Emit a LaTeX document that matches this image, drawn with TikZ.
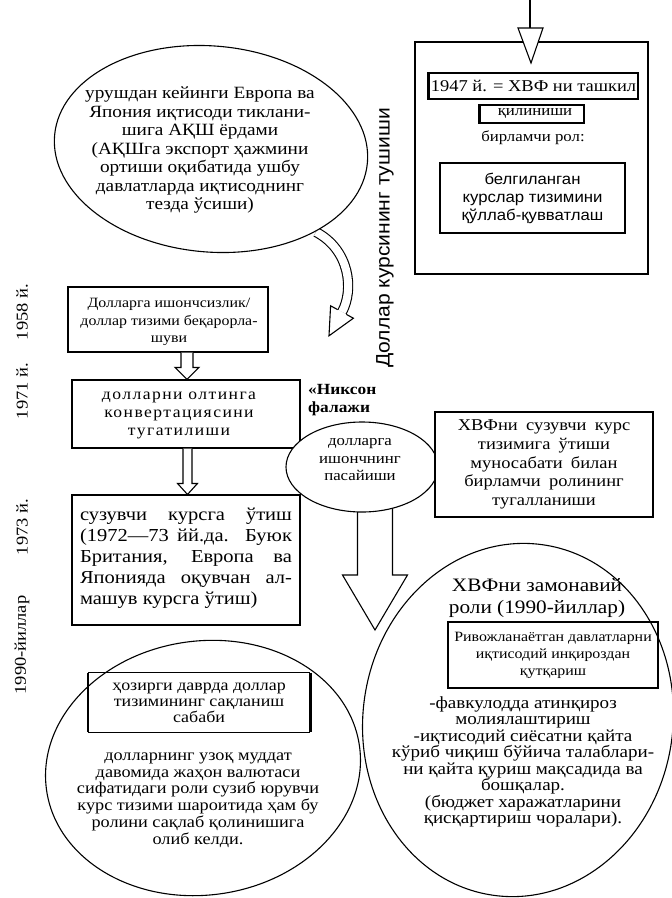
\documentclass[tikz,border=0pt]{standalone}
\usepackage{fontspec}
\setmainfont{Liberation Serif}[FakeStretch=1.12]
\newfontfamily\sansf{Liberation Sans}[FakeStretch=1.08]
\newfontfamily\serifls{Liberation Serif}[FakeStretch=1.1,LetterSpace=9]
\usetikzlibrary{calc,shapes.geometric}
\newcommand\hdown[5]{%
 \draw[ln,fill=white] let \p1=(#1), \p2=(#2) in
 (\x2-#3pt,\y1) -- (\x2-#3pt,\y2+#5pt) -- (\x2-#4pt,\y2+#5pt) -- (\x2,\y2) --
 (\x2+#4pt,\y2+#5pt) -- (\x2+#3pt,\y2+#5pt) -- (\x2+#3pt,\y1);}
\begin{document}
\begin{tikzpicture}[x=1pt,y=-1pt,
  ln/.style={line width=1.1pt},
  box/.style={draw, line width=1.1pt, inner sep=0pt},
  oval/.style={draw, ellipse, line width=1.1pt, inner sep=0pt},
  txt/.style={align=center, inner sep=0pt},
  year/.style={txt, rotate=90, font=\fontsize{16.5}{18}\selectfont},
]
\useasboundingbox[fill=white] (0,0) rectangle (672,898);

% ---------- top right box ----------
\node[box, minimum width=233pt, minimum height=232pt] (T) at (531.5,158) {};
\coordinate (topin) at (530,0);
\coordinate (toptip) at (531,63);
\draw[ln] (topin) -- (530,28);
\draw[ln,fill=white] (518,28) -- (toptip) -- (543,28) -- cycle;
\node[box, minimum width=209pt, minimum height=26pt, txt, font=\fontsize{16.5}{18}\selectfont] (B47) at (533.5,86) {1947 й. = ХВФ ни ташкил};
\draw[line width=2.6pt] (B47.north west) -- (B47.south west);
\node[box, minimum width=104pt, minimum height=18pt, txt, font=\fontsize{15}{16}\selectfont] (Bkil) at (532,114) {\hspace*{6pt}қилиниши};
\draw[line width=2pt] (Bkil.north west) -- (Bkil.south west);
\node[txt, font=\fontsize{15}{16}\selectfont] (Tbir) at (533,138) {бирламчи рол:};
\node[box, minimum width=185pt, minimum height=70pt, txt, font=\sansf\fontsize{15.5}{18}\selectfont] (Bbel) at (532.5,198) {белгиланган\\курслар тизимини\\қўллаб-қувватлаш};

% ---------- top left ellipse + curved arrow ----------
\coordinate (cv0) at (316,232);
\coordinate (cvm) at (342,312);
\draw[ln, double, double distance=8pt] (cv0) .. controls (350,250) and (354,290) .. (cvm);
\fill[white] (353.4,318.2) -- (329,335.8) -- (330.6,305.8) -- cycle;
\draw[ln] (346.4,314.4) -- (353.4,318.2) -- (329,335.8) -- (330.6,305.8) -- (337.6,309.6);
\node[oval, fill=white, minimum width=314pt, minimum height=206pt, rotate=-5] (E1) at (211,149) {};
\node[txt, font=\fontsize{17.2}{18.5}\selectfont] (T1) at (200,150) {урушдан кейинги Европа ва\\Япония иқтисоди тиклани-\\шига АҚШ ёрдами\\(АҚШга экспорт ҳажмини\\ортиши оқибатида ушбу\\давлатларда иқтисоднинг\\тезда ўсиши)};
\node[txt, rotate=90, font=\sansf\fontsize{19.5}{21}\selectfont] (Vdol) at (385,238) {Доллар курсининг тушиши};

% ---------- years ----------
\node[year] (Y58) at (22,312) {1958 й.};
\node[year] (Y71) at (22,391) {1971 й.};
\node[year] (Y73) at (22,527) {1973 й.};
\node[year] (Y90) at (22,645) {1990-йиллар};

% ---------- left column ----------
\node[box, minimum width=200pt, minimum height=65pt] (B1) at (168,319.5) {};
\node[txt, font=\fontsize{14.2}{17.5}\selectfont] (T1b) at (169,322) {Долларга ишончсизлик/\\доллар тизими беқарорла-\\шуви};
\node[box, minimum width=228pt, minimum height=68pt] (B2) at (186,414) {};
\node[txt, font=\serifls\fontsize{16}{18}\selectfont] (T2b) at (179,415) {долларни олтинга\\конвертациясини\\тугатилиши};
\node[box, minimum width=228pt, minimum height=130pt] (B3) at (186,560) {};
\node[inner sep=0pt, text width=212pt, align=justify, font=\fontsize{18.3}{21}\selectfont] (T3b) at (186,558) {сузувчи курсга ўтиш\linebreak (1972—73 йй.да. Буюк\linebreak Британия, Европа ва\linebreak Японияда оқувчан ал-\linebreak машув курсга ўтиш)};
\coordinate (xa) at (187,0);
\coordinate (xb) at (187.5,0);
\hdown{B1.south -| xa}{B2.north -| xa}{6}{12}{12}
\hdown{B2.south -| xb}{B3.north -| xb}{4.5}{10}{11}

% ---------- Nixon ----------
\node[anchor=north west, inner sep=0pt, align=left, font=\bfseries\fontsize{15.5}{18}\selectfont] (Nix) at (308,384) {«Никсон\\фалажи};
\coordinate (E2c) at (362,467);
\coordinate (a3tip) at (375,630);
\coordinate (xc) at (374.5,0);
\hdown{E2c -| xc}{a3tip}{17.5}{32.5}{55}
\node[oval, fill=white, minimum width=152pt, minimum height=90pt] (E2) at (E2c) {};
\node[txt, font=\fontsize{15}{17.5}\selectfont] (T2e) at (360,460) {долларга\\ишончнинг\\пасайиши};
\node[box, fill=white, minimum width=218pt, minimum height=105pt, txt, font={\fontsize{16.5}{18.8}\selectfont\spaceskip=0.5em plus 0.1em\relax}] (Bxvf) at (544,464.5) {ХВФни сузувчи курс\\тизимига ўтиши\\муносабати билан\\бирламчи ролининг\\тугалланиши};

% ---------- bottom right ellipse ----------
\node[oval, minimum width=310pt, minimum height=354pt, rotate=-8] (E3) at (518,720) {};
\node[txt, font=\fontsize{19}{22}\selectfont] (T3t) at (537,598) {ХВФни замонавий\\роли (1990-йиллар)};
\node[box, minimum width=210pt, minimum height=66pt, txt, font=\fontsize{14.2}{17}\selectfont] (Briv) at (553,655) {Ривожланаётган давлатларни\\иқтисодий инқироздан\\қутқариш};
\node[txt, font=\fontsize{17}{16.5}\selectfont] (T3x) at (523,762) {-фавкулодда атинқироз\\молиялаштириш\\-иқтисодий сиёсатни қайта\\кўриб чиқиш бўйича талаблари-\\ни қайта қуриш мақсадида ва\\бошқалар.\\(бюджет харажатларини\\қисқартириш чоралари).};

% ---------- bottom left ellipse ----------
\node[oval, minimum width=316pt, minimum height=254pt, rotate=8] (E4) at (203,768) {};
\node[minimum width=222pt, minimum height=59pt, inner sep=0pt, txt, font=\fontsize{16}{16.2}\selectfont] (Bhoz) at (199,702.5) {ҳозирги даврда доллар\\тизимининг сақланиш\\сабаби};
\draw[ln] (Bhoz.north west) -- (Bhoz.north east);
\draw[ln] (Bhoz.south west) -- (Bhoz.south east);
\draw[line width=2.6pt] (Bhoz.north west) -- (Bhoz.south west);
\draw[line width=2.6pt] (Bhoz.north east) -- (Bhoz.south east);
\node[txt, font=\fontsize{16.3}{16.8}\selectfont] (T4x) at (198,800) {долларнинг узоқ муддат\\давомида жаҳон валютаси\\сифатидаги роли сузиб юрувчи\\курс тизими шароитида ҳам бу\\ролини сақлаб қолинишига\\олиб келди.};
\end{tikzpicture}
\end{document}
